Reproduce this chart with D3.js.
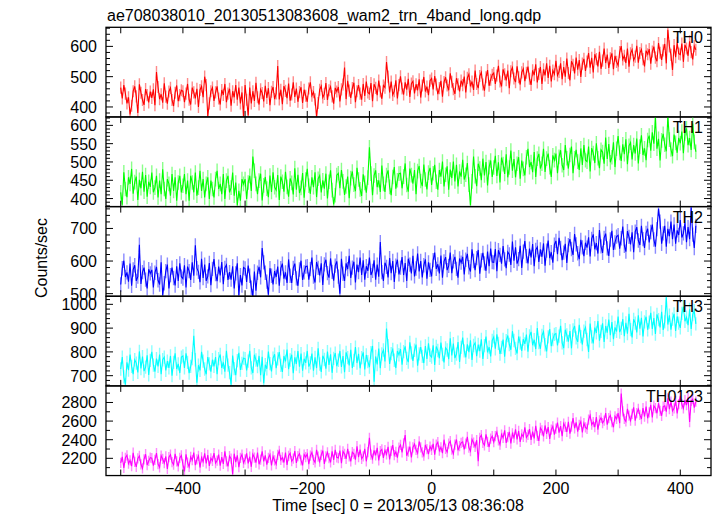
<!DOCTYPE html>
<html><head><meta charset="utf-8">
<script src="https://cdn.jsdelivr.net/npm/d3@7"></script>
<style>body{margin:0;background:#fff}svg{display:block;font-family:"Liberation Sans",Arial,sans-serif}</style>
</head><body><svg id="c" width="717" height="516"></svg>
<script>
const title = "ae708038010_20130513083608_wam2_trn_4band_long.qdp";
const xLabel = "Time [sec] 0 = 2013/05/13 08:36:08";
const yLabel = "Counts/sec";
const bands = ["TH0","TH1","TH2","TH3","TH0123"];
const tStart = -500, binSize = 2.5;
const xTicks = [-400,-200,0,200,400];
const yDomains = [[367,663],[378,623],[492,767],[657,1034],[2015,2978]];
const yMajor = [[400,500,600],[400,450,500,550,600],[500,600,700],[700,800,900,1000],[2200,2400,2600,2800]];
const yMinorStep = [20,10,20,20,100];
const colors = ["#ff0000","#00ff00","#0000ff","#00ffff","#ff00ff"];
const errColors = ["#ff8a8a","#8aff8a","#8a8aff","#8affff","#ff8aff"];
const errors = [20,20,22,28,55];

const th0 = [
464,428,472,444,412,432,375,404,452,468,435,380,475,447,423,407,459,439,415,451,
430,458,406,515,466,426,442,414,478,434,411,451,463,423,403,447,471,419,439,455,
452,416,444,476,424,408,464,448,428,460,400,456,468,432,500,472,370,412,452,464,
420,448,468,428,408,456,440,476,416,444,460,404,452,432,472,424,464,412,448,368,
472,424,372,464,412,452,420,480,432,408,458,446,418,470,430,462,406,450,466,426,
445,535,425,457,409,469,453,429,477,421,441,481,433,461,417,449,465,413,457,437,
417,461,481,437,449,425,368,413,457,469,431,443,479,423,455,467,435,411,463,451,
466,418,458,474,530,426,486,454,430,462,480,416,452,472,444,424,476,436,484,448,
443,479,419,475,463,439,487,451,427,471,464,548,500,448,484,440,452,488,428,472,
501,461,441,481,457,493,433,477,485,445,475,455,491,431,471,499,451,467,439,487,
494,458,502,474,442,462,486,434,482,498,471,455,511,483,459,443,495,475,451,487,
472,500,448,496,508,468,484,456,520,476,462,502,514,474,454,498,522,470,490,506,
512,476,504,536,484,468,524,508,488,520,462,518,530,494,482,534,498,474,514,526,
485,513,533,493,473,521,505,541,481,509,532,476,524,504,544,496,536,484,520,508,
552,504,516,544,492,532,500,560,512,488,551,539,511,563,523,555,499,543,559,519,
550,578,530,562,514,574,558,534,582,526,553,593,545,573,529,561,577,525,569,549,
537,581,601,557,569,545,593,533,577,589,554,566,602,546,578,590,558,534,586,574,
591,543,583,599,563,551,611,579,555,587,608,544,655,600,572,522,604,564,612,576,
573,609,549,605,593,569,617,581,557,601,589];
const th1 = [
417,383,472,426,404,458,440,481,413,445,460,396,451,428,473,419,464,405,446,432,
471,417,430,462,403,449,412,480,426,399,453,440,408,467,421,458,394,444,462,417,
435,467,412,449,394,462,444,417,471,408,430,476,421,453,403,440,458,399,449,426,
403,453,476,426,440,412,467,399,449,462,417,430,471,408,444,382,421,394,453,440,
453,399,444,462,421,515,476,440,412,449,468,395,436,459,427,404,463,418,472,431,
423,464,396,460,446,419,473,432,405,455,443,411,483,424,465,415,429,470,402,452,
481,435,413,458,431,472,404,454,463,417,450,427,468,400,446,477,423,384,409,464,
469,428,478,447,410,433,460,401,456,474,438,420,484,452,425,407,466,443,416,457,
540,468,409,463,477,431,450,418,490,440,418,464,477,432,409,459,486,427,450,468,
469,428,460,496,437,419,482,464,441,478,412,475,489,448,434,493,452,425,471,484,
437,469,492,446,424,478,460,501,433,465,488,424,479,456,501,447,492,433,474,460,
506,452,465,497,438,382,447,515,461,434,495,482,450,509,463,500,436,486,504,459,
485,517,462,499,444,512,494,467,521,458,485,531,476,508,458,495,513,454,504,481,
463,513,536,486,500,472,527,459,509,522,482,495,536,473,509,523,486,459,518,505,
523,469,514,532,491,478,546,510,482,519,542,469,510,533,501,478,537,492,546,505,
501,542,474,538,524,497,551,510,483,533,527,495,567,508,549,499,513,554,486,536,
571,525,503,548,521,562,494,544,553,507,546,523,564,496,542,573,519,537,505,560,
572,531,581,550,622,536,563,504,559,577,547,529,625,561,534,516,575,552,525,566,
551,583,524,578,592,546,565,533,605,555,528];
const th2 = [
528,578,601,551,565,537,592,524,574,587,539,552,650,530,566,580,543,516,575,562,
573,519,564,582,541,528,596,495,532,569,589,516,557,580,548,525,584,539,593,552,
546,587,519,583,569,542,596,555,648,578,567,535,607,548,589,539,553,594,526,576,
606,560,538,583,556,597,529,579,588,542,566,543,584,516,562,593,495,557,525,580,
577,536,586,555,518,493,568,509,564,582,550,640,596,564,537,497,578,555,528,569,
551,583,524,578,592,546,565,533,605,555,533,579,592,547,524,574,601,542,565,583,
584,543,575,611,552,534,597,579,556,593,527,590,604,563,549,608,567,540,586,599,
552,500,607,561,539,593,575,616,548,580,598,534,589,566,611,557,602,543,584,570,
611,557,570,602,543,589,552,658,566,539,595,582,550,609,563,600,536,586,604,559,
580,612,557,594,539,607,589,562,616,553,577,623,568,600,550,587,605,546,596,573,
553,603,626,576,590,562,617,549,599,612,572,585,626,563,599,613,576,549,608,595,
613,559,604,622,581,568,636,600,572,609,634,561,602,625,593,570,629,584,638,597,
596,637,569,633,619,592,646,605,578,628,620,588,660,601,642,592,606,647,579,629,
661,615,593,638,611,652,584,634,643,597,636,613,654,586,632,663,609,627,595,650,
662,621,671,640,603,626,653,594,649,667,637,619,683,651,624,606,665,642,615,656,
641,673,614,668,682,636,655,623,695,645,625,671,684,639,616,666,693,634,657,675,
679,638,670,706,647,629,692,674,651,688,627,690,704,663,649,708,667,640,686,699,
657,689,712,666,644,698,760,721,653,685,708,644,699,676,721,667,712,653,694,680,
726,672,685,717,658,704,667,765,681,640,708];
const th3 = [
728,778,695,662,756,723,789,739,706,767,753,714,802,730,780,719,736,786,703,764,
800,744,717,772,739,789,706,767,778,722,761,733,783,700,756,794,728,750,711,778,
783,733,794,756,711,739,772,868,767,670,744,722,800,761,728,706,778,750,717,767,
739,778,706,772,789,733,756,717,805,744,713,662,785,730,702,763,796,724,752,774,
772,722,761,805,733,711,788,766,738,783,702,779,668,746,729,801,751,718,774,790,
732,771,799,743,716,782,760,810,727,766,788,710,777,749,804,738,793,721,771,754,
804,738,754,793,721,777,732,815,749,716,784,768,729,801,745,790,712,773,795,740,
765,804,737,782,715,798,776,743,809,732,764,820,753,792,731,776,798,726,787,759,
736,797,825,675,781,747,814,731,792,808,760,898,826,749,793,810,765,732,804,788,
812,746,801,823,773,757,840,796,762,807,831,742,792,820,781,753,825,770,836,786,
778,828,745,823,806,773,839,789,756,817,808,769,857,785,835,774,791,841,758,819,
860,804,777,832,799,849,766,827,838,782,831,803,853,770,826,864,798,820,781,848,
863,813,874,836,791,819,852,780,847,869,831,809,887,848,815,793,865,837,804,854,
834,873,801,867,884,828,851,812,900,839,813,869,885,830,802,863,896,824,852,874,
877,827,866,910,838,816,893,871,843,888,815,892,909,859,842,914,864,831,887,903,
852,800,919,863,836,902,880,930,847,886,920,842,909,881,936,870,925,853,903,886,
949,883,899,938,866,922,877,960,894,861,937,921,882,954,898,943,865,926,948,893,
925,964,897,942,875,958,936,903,969,892,926,1030,915,954,893,938,960,888,949,921,
901,962,990,929,946,912,979,896,957,973,918];
const th0123 = [
2152,2215,2098,2206,2233,2143,2179,2116,2260,2161,2109,2199,2226,2136,2091,2190,2244,2127,2172,2208,
2202,2121,2184,2256,2139,2103,2229,2193,2148,2220,2087,2213,2240,2159,2132,2249,2168,2114,2204,2231,
2135,2060,2243,2153,2108,2216,2180,2261,2126,2189,2227,2101,2209,2164,2254,2146,2236,2119,2200,2173,
2257,2149,2176,2239,2122,2212,2140,2275,2167,2113,2223,2196,2030,2250,2160,2232,2106,2205,2241,2151,
2190,2253,2145,2217,2109,2244,2208,2154,2262,2136,2186,2276,2168,2231,2132,2204,2240,2123,2222,2177,
2137,2236,2281,2182,2209,2155,2263,2128,2227,2254,2169,2196,2277,2151,2223,2250,2178,2124,2241,2214,
2246,2138,2228,2264,2183,2156,2291,2219,2165,2237,2283,2139,2220,2265,2202,2157,2274,2184,2292,2211,
2203,2284,2149,2275,2248,2194,2302,2221,2167,2266,2249,2186,2330,2213,2294,2195,2222,2303,2168,2267,
2420,2241,2196,2286,2232,2313,2178,2277,2295,2205,2288,2243,2324,2189,2279,2342,2234,2270,2207,2315,
2344,2263,2362,2450,2227,2272,2326,2209,2317,2353,2291,2255,2381,2318,2264,2228,2345,2300,2246,2327,
2292,2355,2238,2346,2373,2283,2319,2256,2400,2301,2267,2357,2384,2294,2249,2348,2402,2285,2330,2366,
2377,2296,2359,2431,2314,2278,2404,2368,2323,2395,2170,2421,2448,2367,2340,2457,2376,2322,2412,2439,
2375,2438,2483,2393,2348,2456,2420,2501,2366,2429,2485,2359,2467,2422,2512,2404,2494,2377,2458,2431,
2532,2424,2451,2514,2397,2487,2415,2550,2442,2388,2526,2499,2436,2553,2463,2535,2409,2508,2544,2454,
2520,2583,2475,2547,2439,2574,2538,2484,2592,2466,2541,2631,2523,2586,2487,2559,2595,2478,2577,2532,
2517,2616,2661,2562,2589,2535,2643,2508,2607,2634,2579,2606,2687,2561,2633,2660,2588,2534,2651,2624,
2686,2578,2895,2704,2623,2596,2731,2659,2605,2677,2748,2604,2685,2730,2667,2622,2739,2649,2757,2630,
2693,2774,2639,2765,2738,2684,2792,2711,2657,2756,2764,2701,2845,2728,2809,2710,2737,2818,2683,2782,
2871,2781,2736,2826,2772,2853,2590,2817,2835,2745,2808];
const seriesValues = [th0, th1, th2, th3, th0123];

const svg = d3.select("#c");
const left = 106, right = 711, top0 = 27.3, panelH = 89.65;
const x = d3.scaleLinear().domain([-523.7, 449.4]).range([left, right]);
const fs = 16;

svg.append("text").attr("x", 107).attr("y", 21).attr("font-size", fs).text(title);

bands.forEach((name, k) => {
  const y0 = top0 + k * panelH, y1 = y0 + panelH;
  const y = d3.scaleLinear().domain(yDomains[k]).range([y1, y0]);
  const g = svg.append("g");
  const clipId = "clip" + k;
  svg.append("clipPath").attr("id", clipId).append("rect")
    .attr("x", left).attr("y", y0).attr("width", right - left).attr("height", panelH);
  const vals = seriesValues[k];
  const pts = vals.map((v, i) => ({t: tStart + i * binSize, v}));
  const dg = g.append("g").attr("clip-path", `url(#${clipId})`);
  dg.selectAll("line.err").data(pts).join("line").attr("class","err")
    .attr("x1", d => x(d.t)).attr("x2", d => x(d.t))
    .attr("y1", d => y(d.v - errors[k])).attr("y2", d => y(d.v + errors[k]))
    .attr("stroke", errColors[k]).attr("stroke-width", 1.4);
  dg.append("path").datum(pts)
    .attr("d", d3.line().x(d => x(d.t)).y(d => y(d.v)))
    .attr("fill", "none").attr("stroke", colors[k]).attr("stroke-width", 1.1);

  g.append("rect").attr("x", left).attr("y", y0).attr("width", right - left).attr("height", panelH)
    .attr("fill", "none").attr("stroke", "#000").attr("stroke-width", 1.3);

  const xt = d3.range(-500, 450, 100);
  xt.forEach(t => {
    g.append("line").attr("x1", x(t)).attr("x2", x(t)).attr("y1", y1).attr("y2", y1 - 6).attr("stroke", "#000");
    g.append("line").attr("x1", x(t)).attr("x2", x(t)).attr("y1", y0).attr("y2", y0 + 6).attr("stroke", "#000");
  });
  const minor = d3.range(Math.ceil(yDomains[k][0] / yMinorStep[k]) * yMinorStep[k], yDomains[k][1], yMinorStep[k]);
  minor.forEach(v => {
    const isMajor = yMajor[k].includes(v);
    const len = isMajor ? 7 : 4;
    g.append("line").attr("x1", left).attr("x2", left + len).attr("y1", y(v)).attr("y2", y(v)).attr("stroke", "#000");
    g.append("line").attr("x1", right).attr("x2", right - len).attr("y1", y(v)).attr("y2", y(v)).attr("stroke", "#000");
  });
  yMajor[k].forEach(v => {
    g.append("text").attr("x", 97).attr("y", y(v) + 6).attr("text-anchor", "end")
      .attr("font-size", fs).text(v);
  });
  g.append("text").attr("x", 703).attr("y", y0 + 16).attr("text-anchor", "end")
    .attr("font-size", fs).text(name);

  if (k === bands.length - 1) {
    xTicks.forEach(t => {
      g.append("text").attr("x", x(t)).attr("y", y1 + 18).attr("text-anchor", "middle")
        .attr("font-size", fs).text(d3.format("")(t).replace("-", "\u2212"));
    });
  }
});

svg.append("text").attr("x", 398).attr("y", 511).attr("text-anchor", "middle").attr("font-size", fs).text(xLabel);
svg.append("text").attr("transform", "translate(47,258) rotate(-90)").attr("text-anchor", "middle")
  .attr("font-size", fs).text(yLabel);
</script></body></html>
